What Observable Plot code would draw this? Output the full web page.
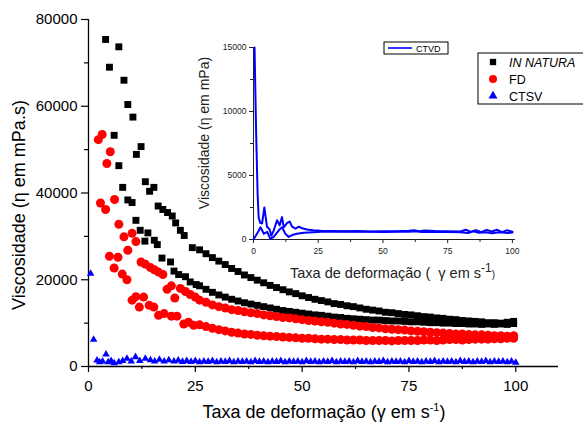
<!DOCTYPE html>
<html>
<head>
<meta charset="utf-8">
<script src="https://cdn.jsdelivr.net/npm/d3@7"></script>
<script src="https://cdn.jsdelivr.net/npm/@observablehq/plot@0.6"></script>
<style>
  html, body { margin: 0; padding: 0; background: #fff; overflow: hidden; }
  #wrap { position: relative; width: 583px; height: 424px; }
  #inset { position: absolute; left: 195px; top: 35px; }
</style>
</head>
<body>
<div id="wrap"><div id="main"></div><div id="inset"></div></div>
<script>
// ---------- data ----------
// IN NATURA (black squares): scattered low-shear points
const naturaEarlyX = [4.0, 4.9, 6.0, 7.1, 7.1, 8.0, 8.3, 9.2, 9.2, 10.2, 10.4, 11.1, 11.2, 12.1, 12.3, 13.2, 13.3, 13.9, 14.3, 15.3, 15.4, 16.1, 16.3, 17.2, 17.4, 18.5, 19.2, 19.6, 20.0, 20.4, 21.1, 21.5, 22.4, 22.7, 23.8, 24.3, 25.2];
const naturaEarlyY = [75400, 69000, 53300, 73700, 46300, 41300, 66000, 60400, 38400, 37800, 57500, 33700, 48900, 31400, 50700, 28900, 42600, 30800, 40400, 41300, 29100, 28100, 37000, 25000, 36200, 35500, 24100, 34700, 22000, 33100, 21200, 31400, 30200, 20700, 19500, 27400, 18900];
// shear-rate grid of the dense part (all samples)
const gammaTail = [26, 27.5, 29, 30.5, 32, 33.5, 35, 36.5, 38, 39.5, 41, 42.5, 44, 45.5, 47, 48.5, 50, 51.5, 53, 54.5, 56, 57.5, 59, 60.5, 62, 63.5, 65, 66.5, 68, 69.5, 71, 72.5, 74, 75.5, 77, 78.5, 80, 81.5, 83, 84.5, 86, 87.5, 89, 90.5, 92, 93.5, 95, 96.5, 98, 99.5];
const naturaUp = [26900, 26000, 25100, 24300, 23500, 22600, 21900, 21100, 20500, 19900, 19300, 18700, 18200, 17700, 17200, 16800, 16300, 15900, 15500, 15200, 14900, 14500, 14300, 14000, 13800, 13500, 13200, 13000, 12800, 12500, 12400, 12200, 12000, 11900, 11700, 11500, 11400, 11200, 11100, 10900, 10800, 10600, 10500, 10400, 10300, 10100, 10100, 10000, 10200, 10400];
const naturaDown = [18600, 17800, 17100, 16500, 16000, 15500, 15100, 14700, 14400, 14100, 13800, 13500, 13200, 12900, 12700, 12500, 12300, 12100, 11900, 11800, 11600, 11400, 11300, 11100, 11000, 10900, 10800, 10700, 10700, 10600, 10500, 10500, 10400, 10300, 10300, 10200, 10100, 10100, 10000, 10000, 9900, 9900, 9800, 9800, 9700, 9800, 9700, 9800, 9700, 9900];
// FD (red circles)
const fdEarlyX = [2.3, 3.2, 5.1, 4.3, 6.1, 2.8, 4.0, 7.1, 8.3, 10.2, 11.1, 9.2, 4.9, 6.9, 6.0, 7.9, 9.0, 12.3, 13.3, 14.5, 15.4, 16.3, 17.4, 18.4, 19.4, 20.2, 21.5, 22.7, 23.8, 25.0, 10.2, 11.1, 12.9, 11.9, 14.2, 15.3, 16.4, 17.7, 19.4, 20.7, 22.3, 23.4, 24.6];
const fdEarlyY = [52300, 53500, 49500, 46800, 38500, 37700, 36200, 32800, 29900, 30700, 28800, 26800, 25400, 25200, 22700, 21300, 20000, 24100, 23600, 22800, 22300, 21800, 21200, 17800, 18600, 15800, 18000, 17300, 16600, 16000, 15300, 16100, 16000, 13700, 14100, 13700, 11800, 12200, 11600, 11600, 9800, 10200, 9500];
const fdUp = [15300, 14800, 14200, 13800, 13500, 13100, 12900, 12600, 12400, 12200, 11900, 11700, 11500, 11300, 11200, 11000, 10800, 10600, 10500, 10300, 10200, 10000, 9800, 9700, 9500, 9300, 9200, 9000, 8900, 8700, 8600, 8500, 8400, 8200, 8100, 8000, 7900, 7800, 7700, 7600, 7500, 7500, 7400, 7300, 7300, 7200, 7100, 7100, 7000, 7100];
const fdDown = [9600, 9200, 8800, 8500, 8200, 7900, 7700, 7500, 7400, 7200, 7100, 7000, 6900, 6800, 6700, 6600, 6500, 6500, 6400, 6300, 6300, 6200, 6200, 6100, 6100, 6100, 6000, 6000, 6000, 6000, 5900, 6000, 6000, 6000, 6000, 6100, 6100, 6000, 6100, 6200, 6200, 6100, 6200, 6300, 6300, 6300, 6400, 6400, 6500, 6500];
// CTSV (blue triangles)
const ctsvX = [0.5, 1.2, 2.0, 2.6, 3.3, 4.1, 4.6, 5.3, 6.0, 7.1, 8.0, 9.0, 10.0, 11.0, 12.0, 13.3, 14.5, 15.5, 16.6, 17.7, 18.8, 20, 21, 22, 23, 24, 25, 26, 27, 28, 29, 30, 31, 32, 33, 34, 35, 36, 37, 38, 39, 40, 41, 42, 43, 44, 45, 46, 47, 48, 49, 50, 51, 52, 53, 54, 55, 56, 57, 58, 59, 60, 61, 62, 63, 64, 65, 66, 67, 68, 69, 70, 71, 72, 73, 74, 75, 76, 77, 78, 79, 80, 81, 82, 83, 84, 85, 86, 87, 88, 89, 90, 91, 92, 93, 94, 95, 96, 97, 98, 99, 100];
const ctsvY = [21400, 6200, 1400, 1000, 1200, 2800, 1000, 1300, 800, 1000, 1300, 1800, 1200, 2200, 1300, 1800, 1500, 1200, 1600, 1200, 1500, 1200, 1400, 1100, 1300, 1100, 1300, 1000, 1200, 1100, 1300, 1000, 1200, 1100, 1300, 1000, 1200, 1100, 1200, 1000, 1300, 1100, 1200, 1000, 1200, 1100, 1300, 1000, 1200, 1100, 1200, 1000, 1300, 1100, 1200, 1000, 1200, 1100, 1300, 1000, 1200, 1100, 1200, 1000, 1300, 1100, 1200, 1000, 1200, 1100, 1300, 1000, 1200, 1100, 1200, 1000, 1300, 1100, 1200, 1000, 1200, 1100, 1300, 1000, 1200, 1100, 1200, 1000, 1300, 1100, 1200, 1000, 1200, 1100, 1300, 1000, 1200, 1100, 1200, 1000, 1200, 900];
// CTVD (inset, blue line): two branches
const ctvdUpX = [0.4, 1.0, 1.6, 2.0, 2.6, 3.3, 4.2, 5.2, 6.2, 6.9, 7.8, 9.1, 10.1, 11.0, 11.7, 13.0, 14.0, 14.9, 16.2, 17.5, 18.5, 20.6, 23, 26, 30, 35, 40, 45, 50, 55, 60, 62, 64, 66, 70, 75, 80, 82, 84, 86, 88, 90, 92, 94, 96, 98, 100];
const ctvdUpY = [15000, 8500, 3500, 1700, 1300, 1250, 2500, 1000, 800, 300, 700, 1500, 1100, 1750, 950, 1300, 1400, 1000, 850, 1000, 900, 780, 720, 680, 660, 640, 660, 630, 650, 640, 680, 720, 650, 700, 660, 650, 620, 760, 600, 720, 580, 750, 620, 760, 580, 720, 600];
const ctvdDownX = [0, 1.5, 2.7, 4.0, 5.3, 6.5, 7.8, 9.7, 11.0, 12.3, 13.6, 14.9, 16.8, 19.4, 23.1, 26, 30, 35, 40, 45, 50, 55, 60, 63, 65, 70, 75, 80, 83, 85, 87, 90, 92, 95, 98, 100];
const ctvdDownY = [0, 500, 950, 450, 600, 50, 200, 700, 950, 450, 200, 350, 450, 520, 570, 610, 600, 620, 600, 610, 590, 610, 600, 650, 580, 600, 590, 560, 500, 650, 520, 560, 480, 560, 500, 540];
// ticks
const xTicks = [0, 25, 50, 75, 100];
const xMinor = [12.5, 37.5, 62.5, 87.5];
const yTicks = [0, 20000, 40000, 60000, 80000];
const yMinor = [10000, 30000, 50000, 70000];
const insetYTicks = [0, 5000, 10000, 15000];
const insetYMinor = [2500, 7500, 12500];

// ---------- tables ----------
const pts = (xs, ys) => xs.map((x, i) => ({x, y: ys[i]}));
const natura = pts(naturaEarlyX, naturaEarlyY).concat(pts(gammaTail, naturaUp), pts(gammaTail, naturaDown));
const fd = pts(fdEarlyX, fdEarlyY).concat(pts(gammaTail, fdUp), pts(gammaTail, fdDown));
const ctsv = pts(ctsvX, ctsvY);
const ctvd = pts(ctvdUpX, ctvdUpY).map(d => ({...d, b: "up"}))
  .concat(pts(ctvdDownX, ctvdDownY).map(d => ({...d, b: "down"})));

const FONT = "'Liberation Sans', Arial, Helvetica, sans-serif";

// ---------- main chart ----------
const main = Plot.plot({
  width: 583, height: 424,
  marginLeft: 88, marginRight: 25, marginTop: 19, marginBottom: 58,
  x: {domain: [0, 110]},
  y: {domain: [0, 80000]},
  style: {fontFamily: FONT, fontSize: "15px", color: "black", background: "white", overflow: "hidden"},
  marks: [
    Plot.axisY({ticks: yTicks, tickSize: 7, tickPadding: 4, tickFormat: d3.format("d"), label: null, fontSize: 15, strokeWidth: 1.2}),
    Plot.axisY({ticks: yMinor, tickSize: 4, tickFormat: () => "", label: null, strokeWidth: 1.2}),
    Plot.axisX({ticks: xTicks, tickSize: 6, tickPadding: 8, tickFormat: d3.format("d"), label: null, fontSize: 15, strokeWidth: 1.2}),
    Plot.axisX({ticks: xMinor, tickSize: 3, tickFormat: () => "", label: null, strokeWidth: 1.2}),
    Plot.ruleX([0], {stroke: "black", strokeWidth: 1.3}),
    Plot.ruleY([0], {stroke: "black", strokeWidth: 1.3}),
    Plot.dot(natura, {x: "x", y: "y", symbol: "square", r: 3.9, fill: "black"}),
    Plot.dot(fd, {x: "x", y: "y", symbol: "circle", r: 4.5, fill: "#ff0000"}),
    Plot.dot(ctsv, {x: "x", y: "y", symbol: "triangle", r: 2.8, fill: "#0000ff"})
  ]
});
document.getElementById("main").appendChild(main);

const svg = d3.select(main);
svg.append("text")
  .attr("transform", "translate(25,205) rotate(-90)")
  .attr("text-anchor", "middle").attr("font-family", FONT).attr("font-size", 18).attr("fill", "black")
  .text("Viscosidade (η em mPa.s)");
const xl = svg.append("text").attr("x", 324).attr("y", 418)
  .attr("text-anchor", "middle").attr("font-family", FONT).attr("font-size", 18).attr("fill", "black");
xl.append("tspan").text("Taxa de deformação (γ em s");
xl.append("tspan").attr("font-size", 11).attr("dy", -7).text("-1");
xl.append("tspan").attr("dy", 7).text(")");

// main legend
const lg = svg.append("g").attr("font-family", FONT).attr("font-size", 12.5).attr("text-anchor", "start");
lg.append("rect").attr("x", 478).attr("y", 53).attr("width", 130).attr("height", 51)
  .attr("fill", "white").attr("stroke", "black").attr("stroke-width", 1);
const legendItems = [
  {label: "IN NATURA", sym: d3.symbolSquare, color: "black", size: 40, italic: true},
  {label: "FD", sym: d3.symbolCircle, color: "#ff0000", size: 50, italic: false},
  {label: "CTSV", sym: d3.symbolTriangle, color: "#0000ff", size: 35, italic: false}
];
legendItems.forEach((it, i) => {
  const cy = 62 + i * 17;
  lg.append("path").attr("d", d3.symbol(it.sym, it.size)()).attr("transform", `translate(493,${cy})`).attr("fill", it.color);
  lg.append("text").attr("x", 509).attr("y", cy + 4.5).attr("fill", "black").attr("text-anchor", "start")
    .attr("font-style", it.italic ? "italic" : "normal").text(it.label);
});

// inset legend
const il = svg.append("g").attr("font-family", FONT).attr("font-size", 9).attr("text-anchor", "start");
il.append("rect").attr("x", 384).attr("y", 42).attr("width", 64).attr("height", 12)
  .attr("fill", "white").attr("stroke", "black").attr("stroke-width", 1);
il.append("line").attr("x1", 388).attr("x2", 412).attr("y1", 48).attr("y2", 48).attr("stroke", "#0000ff").attr("stroke-width", 1.6);
il.append("text").attr("x", 416).attr("y", 51.5).attr("fill", "black").attr("text-anchor", "start").text("CTVD");

// ---------- inset chart ----------
const inset = Plot.plot({
  width: 350, height: 250,
  marginLeft: 58, marginRight: 30, marginTop: 12, marginBottom: 46,
  x: {domain: [0, 101.2]},
  y: {domain: [0, 15000]},
  style: {fontFamily: FONT, fontSize: "8.5px", color: "#222", background: "transparent", overflow: "visible"},
  marks: [
    Plot.axisY({ticks: insetYTicks, tickSize: 4, tickPadding: 3, tickFormat: d3.format("d"), label: null, fontSize: 8.5}),
    Plot.axisY({ticks: insetYMinor, tickSize: 3, tickFormat: () => "", label: null}),
    Plot.axisX({ticks: xTicks, tickSize: 4, tickPadding: 4, tickFormat: d3.format("d"), label: null, fontSize: 8.5}),
    Plot.axisX({ticks: xMinor, tickSize: 3, tickFormat: () => "", label: null}),
    Plot.ruleX([0], {stroke: "#222", strokeWidth: 1}),
    Plot.ruleY([0], {stroke: "#222", strokeWidth: 1}),
    Plot.line(ctvd, {x: "x", y: "y", z: "b", stroke: "#0000ff", strokeWidth: 2, curve: "linear"})
  ]
});
document.getElementById("inset").appendChild(inset);
const isvg = d3.select(inset);
// inset axis titles (page coords minus inset offset 195,35)
isvg.append("text")
  .attr("transform", `translate(${209 - 195},${133 - 35}) rotate(-90)`)
  .attr("text-anchor", "middle").attr("font-family", FONT).attr("font-size", 14).attr("fill", "#222")
  .text("Viscosidade (η em mPa)");
const ixl = isvg.append("text").attr("x", 290 - 195).attr("y", 278 - 35).attr("text-anchor", "start")
  .attr("font-family", FONT).attr("font-size", 14.5).attr("fill", "#222");
ixl.append("tspan").text("Taxa de deformação (  γ em s");
ixl.append("tspan").attr("font-size", 12).attr("dy", -6).text("-1");
ixl.append("tspan").attr("font-size", 10).attr("dy", 6).text(")");
</script>
</body>
</html>
